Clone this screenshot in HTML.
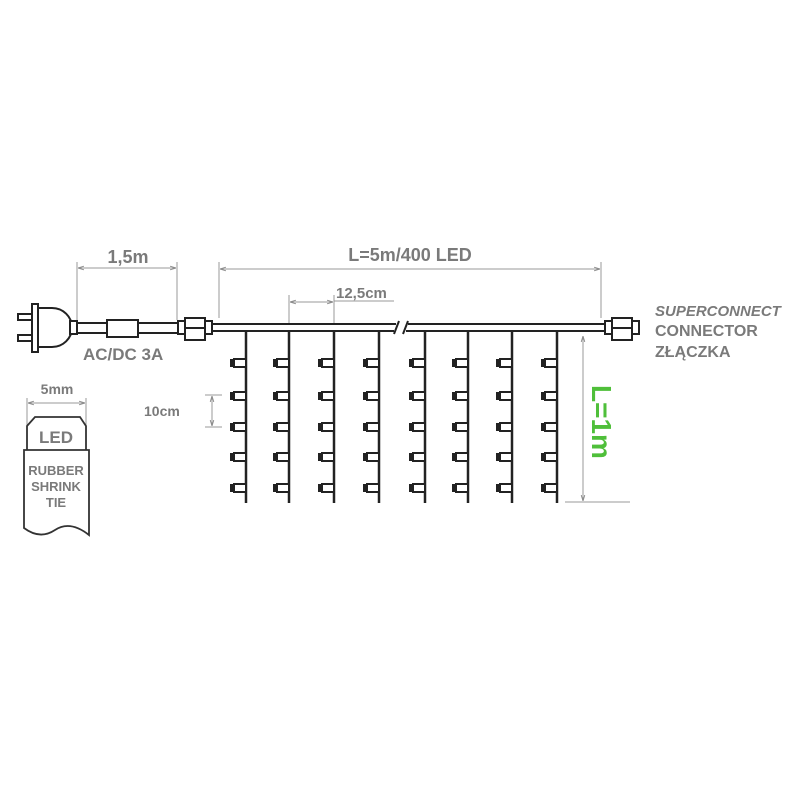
<!DOCTYPE html>
<html><head><meta charset="utf-8"><style>
html,body{margin:0;padding:0;background:#fff;}
svg{display:block;}
text{font-family:"Liberation Sans",sans-serif;font-weight:bold;fill:#7a7a7a;}
</style></head><body>
<svg width="800" height="800" viewBox="0 0 800 800" xmlns="http://www.w3.org/2000/svg">
<defs>
<marker id="a" viewBox="0 0 10 10" refX="10" refY="5" markerWidth="6" markerHeight="6" orient="auto-start-reverse"><path d="M0,2 L10,5 L0,8" fill="none" stroke="#888" stroke-width="1.5"/></marker>
<g id="led"><rect x="-16" y="-4" width="5" height="8" fill="#222"/><rect x="-12" y="-4" width="12" height="8" fill="#fff" stroke="#222" stroke-width="2"/></g>
<g id="strand">
<line x1="0" y1="331" x2="0" y2="503" stroke="#222" stroke-width="2.5"/>
<use href="#led" y="363"/><use href="#led" y="396"/><use href="#led" y="427"/><use href="#led" y="457"/><use href="#led" y="488"/>
</g>
</defs>
<g stroke="#999" stroke-width="1" fill="none">
<line x1="77" y1="262" x2="77" y2="324"/><line x1="177" y1="262" x2="177" y2="320"/>
<line x1="78" y1="268" x2="176" y2="268" marker-start="url(#a)" marker-end="url(#a)"/>
<line x1="219" y1="262" x2="219" y2="318"/><line x1="601" y1="262" x2="601" y2="318"/>
<line x1="220" y1="269" x2="600" y2="269" marker-start="url(#a)" marker-end="url(#a)"/>
<line x1="289" y1="295" x2="289" y2="324"/><line x1="334" y1="295" x2="334" y2="324"/>
<line x1="290" y1="302" x2="333" y2="302" marker-start="url(#a)" marker-end="url(#a)"/>
<line x1="334" y1="301" x2="394" y2="301"/>
<line x1="205" y1="395" x2="222" y2="395"/><line x1="205" y1="427" x2="222" y2="427"/>
<line x1="212" y1="396" x2="212" y2="426" marker-start="url(#a)" marker-end="url(#a)"/>
<line x1="583" y1="336" x2="583" y2="501" marker-start="url(#a)" marker-end="url(#a)"/>
<line x1="565" y1="502" x2="630" y2="502"/>
<line x1="27" y1="398" x2="27" y2="425"/><line x1="86" y1="398" x2="86" y2="425"/>
<line x1="28" y1="403" x2="85" y2="403" marker-start="url(#a)" marker-end="url(#a)"/>
</g>
<text x="128" y="263" font-size="18" text-anchor="middle">1,5m</text>
<text x="410" y="261" font-size="18" text-anchor="middle">L=5m/400 LED</text>
<text x="336" y="298" font-size="15">12,5cm</text>
<text x="144" y="416" font-size="14">10cm</text>
<text x="83" y="360" font-size="17">AC/DC 3A</text>
<g stroke="#222" stroke-width="2" fill="#fff">
<rect x="18" y="314" width="15" height="6"/><rect x="18" y="335" width="15" height="6"/>
<path d="M38,308 L52,308 A20,19.5 0 0 1 52,347 L38,347 Z"/>
<rect x="32" y="304" width="6" height="48"/>
<rect x="70" y="321" width="7" height="13"/>
<line x1="77" y1="323" x2="178" y2="323"/><line x1="77" y1="333" x2="178" y2="333"/>
<rect x="107" y="320" width="31" height="17"/>
<rect x="178" y="321" width="7" height="13"/><rect x="185" y="318" width="20" height="22"/><rect x="205" y="321" width="7" height="13"/>
<line x1="185" y1="328" x2="205" y2="328"/>
<line x1="212" y1="324" x2="396" y2="324"/><line x1="212" y1="331" x2="394" y2="331"/>
<line x1="408" y1="324" x2="605" y2="324"/><line x1="406" y1="331" x2="605" y2="331"/>
<line x1="394" y1="334" x2="399" y2="321"/><line x1="403" y1="334" x2="408" y2="321"/>
<rect x="605" y="321" width="7" height="13"/><rect x="612" y="318" width="20" height="22"/><rect x="632" y="321" width="7" height="13"/>
<line x1="612" y1="328" x2="632" y2="328"/>
</g>
<use href="#strand" x="246"/><use href="#strand" x="289"/><use href="#strand" x="334"/><use href="#strand" x="379"/>
<use href="#strand" x="425"/><use href="#strand" x="468"/><use href="#strand" x="512"/><use href="#strand" x="557"/>
<text x="655" y="316" font-size="15" font-style="italic">SUPERCONNECT</text>
<text x="655" y="336" font-size="16">CONNECTOR</text>
<text x="655" y="357" font-size="16">ZŁĄCZKA</text>
<text transform="translate(592,422) rotate(90)" font-size="28" text-anchor="middle" style="fill:#4fbf3a">L=1m</text>
<g stroke="#333" stroke-width="1.8" fill="#fff">
<path d="M27,450 L27,426 L35,417 L80,417 L86,426 L86,450"/>
<path d="M24,450 L89,450 L89,535 Q70,520 55,530 Q40,540 24,528 Z"/>
</g>
<text x="56" y="443" font-size="17" text-anchor="middle" fill="#666">LED</text>
<text x="56" y="475" font-size="13" text-anchor="middle" fill="#666">RUBBER</text>
<text x="56" y="491" font-size="13" text-anchor="middle" fill="#666">SHRINK</text>
<text x="56" y="507" font-size="13" text-anchor="middle" fill="#666">TIE</text>
<text x="57" y="394" font-size="14" text-anchor="middle">5mm</text>
</svg>
</body></html>
